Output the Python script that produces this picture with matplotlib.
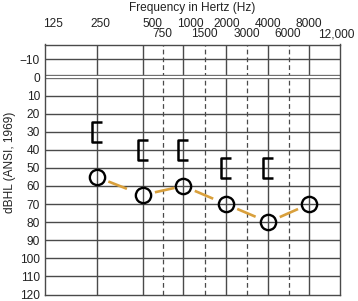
import numpy as np
import matplotlib
matplotlib.use("Agg")
import matplotlib.pyplot as plt
from matplotlib.path import Path
from matplotlib.markers import MarkerStyle
from matplotlib.transforms import ScaledTranslation

plt.rcParams['font.family'] = ['Liberation Sans', 'DejaVu Sans']
plt.rcParams['lines.scale_dashes'] = False

# audiogram values (Hz, dBHL)
air_freqs = [250, 500, 1000, 2000, 4000, 8000]
air_db = [55, 65, 60, 70, 80, 70]
bone_freqs = [250, 500, 1000, 2000, 4000]
bone_db = [30, 40, 40, 50, 50]

# grid / labels of the printed form
octave_freqs = [250, 500, 1000, 2000, 4000, 8000]
mid_freqs = [750, 1500, 3000, 6000]
row1_freqs = [125, 250, 500, 1000, 2000, 4000, 8000]
row1_labels = ['125', '250', '500', '1000', '2000', '4000', '8000']
row2_freqs = [750, 1500, 3000, 6000, 12000]
row2_labels = ['750', '1500', '3000', '6000', '12,000']
db_ticks = list(range(-10, 130, 10))
db_labels = [str(v).replace('-', '\u2212') for v in db_ticks]

# the form is not strictly logarithmic: where each frequency sits (px from left)
form_freqs = [125, 250, 500, 1000, 2000, 4000, 8000, 12000]
form_pos = [0, 51.7, 97.7, 138.3, 180.7, 223.3, 264.3, 295]
row1_nudge = [7.5, 4, 9.5, 7, 1, 0, -1]
row2_nudge = [-1, 0, -0.5, -1, -4]

grid_col = '#4a4a4a'
txt_col = '#222222'
fs = 8.6


def fwd(f):
    return np.interp(f, form_freqs, form_pos)


def inv(p):
    return np.interp(p, form_pos, form_freqs)


fig = plt.figure(figsize=(3.58, 3.01), dpi=100)
ax = fig.add_axes([45/358, 1 - 294.5/301, 295/358, 250/301])
ax.set_xscale('function', functions=(fwd, inv))
ax.set_xlim(125, 12000)
ax.set_ylim(120, -18.2)

# grid
for f in octave_freqs:
    ax.axvline(f, color=grid_col, lw=1.0, zorder=1)
for f in mid_freqs:
    ax.axvline(f, color=grid_col, lw=0.9, ls=(0, (3.4, 2.2)), zorder=1)
for d in db_ticks[:-1]:
    if d == 0:
        ax.axhline(d, color='#6a6a6a', lw=3.1, zorder=1)
        ax.axhline(d, color='white', lw=1.5, zorder=1)
    else:
        ax.axhline(d, color=grid_col, lw=1.0, zorder=1)

for s in ax.spines.values():
    s.set_color(grid_col)
    s.set_linewidth(1.0)

# air conduction: dashed connecting line, one dash per segment
dash, gap = 14.4, 9.0
for i in range(len(air_freqs) - 1):
    ax.plot(air_freqs[i:i+2], air_db[i:i+2], color='#d9a03c', lw=1.9,
            ls=(dash + 100 - gap, (dash, 100)), dash_capstyle='butt', zorder=3)
ax.plot(air_freqs, air_db, ls='none', marker='o', ms=11, mfc='none',
        mec='black', mew=1.7, zorder=4)

# bone conduction (masked) brackets
bracket = Path([(0.5, 1), (-0.5, 1), (-0.5, -1), (0.5, -1)],
               [Path.MOVETO, Path.LINETO, Path.LINETO, Path.LINETO])
ax.plot(bone_freqs, bone_db, ls='none',
        marker=MarkerStyle(bracket, joinstyle='miter'), ms=14.4,
        mfc='none', mec='black', mew=1.8, zorder=4)

# y axis
ax.set_yticks(db_ticks)
ax.set_yticklabels(db_labels)
ax.tick_params(axis='y', length=0, pad=3.6, labelsize=fs, labelcolor=txt_col)
ax.set_xticks([])
ax.set_xticks([], minor=True)
ax.set_ylabel('dBHL (ANSI, 1969)', fontsize=fs, color=txt_col)
ax.yaxis.set_label_coords(-0.098, 0.527)

# top frequency labels
xtr = ax.get_xaxis_transform()
for f, lab, dx in zip(row1_freqs, row1_labels, row1_nudge):
    ax.text(f, (294.5 - 24) / 250, lab, ha='center', va='center', fontsize=fs,
            color=txt_col, transform=xtr + ScaledTranslation(dx / 100, 0, fig.dpi_scale_trans),
            clip_on=False)
for f, lab, dx in zip(row2_freqs, row2_labels, row2_nudge):
    ax.text(f, (294.5 - 34.3) / 250, lab, ha='center', va='center', fontsize=fs,
            color=txt_col, transform=xtr + ScaledTranslation(dx / 100, 0, fig.dpi_scale_trans),
            clip_on=False)
ax.text(0.5, (294.5 - 8) / 250, 'Frequency in Hertz (Hz)', ha='center', va='center',
        fontsize=fs, color=txt_col, transform=ax.transAxes)

fig.savefig('out.png', dpi=100)
